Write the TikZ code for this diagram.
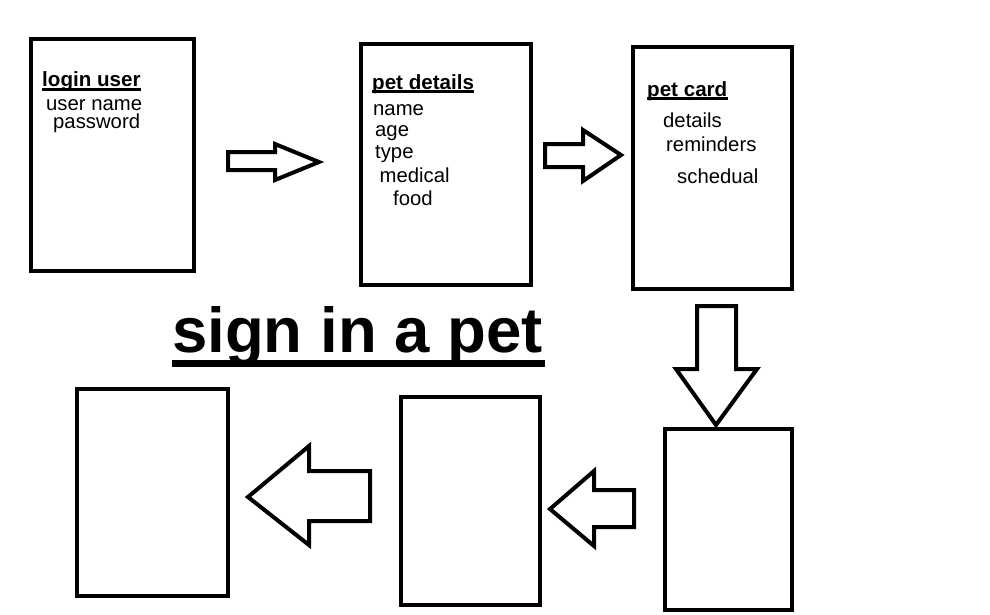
\documentclass[tikz,border=0pt]{standalone}
\usepackage{fontspec}
\setmainfont{Liberation Sans}
\begin{document}
\begin{tikzpicture}[x=1pt,y=-1pt,
  box/.style={draw=black,line width=4pt,fill=white,inner sep=0pt},
  blockarrow/.style={draw=black,line width=4pt,fill=white,line join=miter},
  head/.style={anchor=base west,inner sep=0pt,font=\fontsize{20.6}{22}\selectfont\bfseries},
  item/.style={anchor=base west,inner sep=0pt,font=\fontsize{20.3}{22}\selectfont},
  uline/.style={line width=2.5pt}]
\useasboundingbox[fill=white] (0,0) rectangle (990,614);

% boxes
\node[box,minimum width=163pt,minimum height=232pt] (b1) at (112.5,155) {};
\node[box,minimum width=170pt,minimum height=241pt] (b2) at (446,164.5) {};
\node[box,minimum width=159pt,minimum height=242pt] (b3) at (712.5,168) {};
\node[box,minimum width=151pt,minimum height=207pt] (b4) at (152.5,492.5) {};
\node[box,minimum width=139pt,minimum height=208pt] (b5) at (470.5,501) {};
\node[box,minimum width=127pt,minimum height=181pt] (b6) at (728.5,519.5) {};

% block arrows
\draw[blockarrow] (228,152) -- (275,152) -- (275,144) -- (319,162) -- (275,180) -- (275,170) -- (228,170) -- cycle;
\draw[blockarrow] (545,144) -- (583,144) -- (583,130) -- (621,155) -- (583,181) -- (583,167) -- (545,167) -- cycle;
\draw[blockarrow] (697,306) -- (736,306) -- (736,369) -- (757,369) -- (716,425) -- (676,369) -- (697,369) -- cycle;
\draw[blockarrow] (634,490) -- (594,490) -- (594,471) -- (550,509) -- (594,546) -- (594,527) -- (634,527) -- cycle;
\draw[blockarrow] (370,471) -- (309,471) -- (309,446) -- (248,497) -- (309,545) -- (309,521) -- (370,521) -- cycle;

% login user
\node[head] (t1) at (42,86.5) {login user};
\draw[uline] ([yshift=-3pt]t1.base west) -- ([yshift=-3pt]t1.base east);
\node[item] (t1a) at (46,110) {user name};
\node[item] (t1b) at (53,128) {password};

% pet details
\node[head] (t2) at (372,89) {pet details};
\draw[uline] ([yshift=-2.5pt]t2.base west) -- ([yshift=-2.5pt]t2.base east);
\node[item] (t2a) at (373,115) {name};
\node[item] (t2b) at (375,136) {age};
\node[item] (t2c) at (375,158) {type};
\node[item] (t2d) at (379.5,182) {medical};
\node[item] (t2e) at (393,205) {food};

% pet card
\node[head] (t3) at (647,96) {pet card};
\draw[uline] ([yshift=-2.5pt]t3.base west) -- ([yshift=-2.5pt]t3.base east);
\node[item] (t3a) at (663,127) {details};
\node[item] (t3b) at (666,151) {reminders};
\node[item] (t3c) at (677,183) {schedual};

% title
\node[anchor=base west,inner sep=0pt,font=\fontsize{63.5}{70}\selectfont\bfseries] (title) at (172,352) {sign in a pet};
\draw[line width=7pt] ([yshift=-11.5pt]title.base west) -- ([yshift=-11.5pt,xshift=2pt]title.base east);
\end{tikzpicture}
\end{document}
